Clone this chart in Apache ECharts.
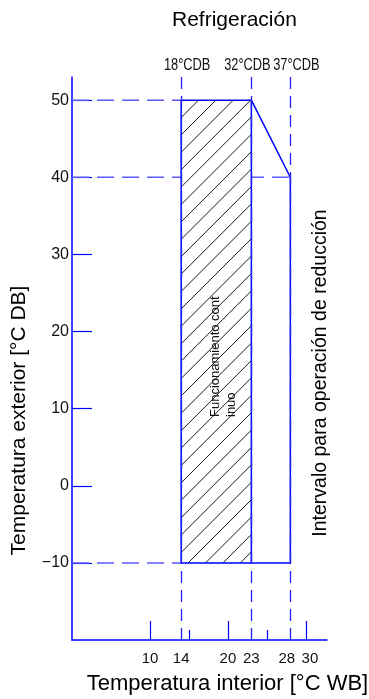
<!DOCTYPE html>
<html>
<head>
<meta charset="utf-8">
<script src="https://cdn.jsdelivr.net/npm/echarts@6/dist/echarts.min.js"></script>
<style>
html,body{margin:0;padding:0;background:#fff;}
#chart{width:369px;height:699px;}
</style>
</head>
<body>
<div id="chart"></div>
<script>
// ---- data ----
const titleText = 'Refrigeración';
const xName = 'Temperatura interior [°C WB]';
const yName = 'Temperatura exterior [°C DB]';
const rightNote = 'Intervalo para operación de reducción';
const areaNote = 'Funcionamiento cont\ninuo';
const xTickLabels = [10, 14, 20, 23, 28, 30];
const xMajorTicks = [10, 20, 30];
const xMinorTicks = [15, 25];
const yTickValues = [-10, 0, 10, 20, 30, 40, 50];
const dbWB = [14, 23, 28];
const dbLabels = ['18°CDB', '32°CDB', '37°CDB'];
const xRange = [0, 32.7];
const yRange = [-20, 53];
// continuous-operation rectangle: [xMin, yMin, xMax, yMax]
const continuousArea = [14, -10, 23, 50];
// operating envelope outline
const envelope = [[14, -10], [14, 50], [23, 50], [28, 40], [28, -10], [14, -10]];
const innerEdge = [[23, 50], [23, -10]];
// horizontal dashed guides: [y, xEnd]
const hGuides = [[50, 14], [40, 28], [-10, 14]];

const BLUE = '#0000ff';
const sans = 'Liberation Sans';
const tickFont = { fontFamily: sans, fontSize: 15, color: '#111' };
const dbLabelShift = [6, -4, 6];

const chart = echarts.init(document.getElementById('chart'));

const series = [];
// vertical dashed guides at the dry-bulb limits
series.push({
  type: 'line', xAxisIndex: 0, yAxisIndex: 0, symbol: 'none', silent: true, data: [], z: 2,
  markLine: {
    silent: true, symbol: 'none', animation: false,
    lineStyle: { color: '#2020ff', width: 1.3, type: [12, 7] },
    label: { show: false },
    data: dbWB.map(function (x) { return { xAxis: x }; })
  }
});
hGuides.forEach(function (g) {
  series.push({
    type: 'line', xAxisIndex: 0, yAxisIndex: 0, symbol: 'none', silent: true,
    data: [[xRange[0], g[0]], [g[1], g[0]]],
    lineStyle: { color: '#5a5aff', width: 1.5, type: [17, 8] }, z: 2
  });
});
series.push({
  type: 'custom', xAxisIndex: 0, yAxisIndex: 0, silent: true, z: 3,
  data: [continuousArea],
  renderItem: function (params, api) {
    const p0 = api.coord([api.value(0), api.value(3)]);
    const p1 = api.coord([api.value(2), api.value(1)]);
    const x0 = p0[0], y0 = p0[1], x1 = p1[0], y1 = p1[1];
    const step = 17.4;
    const sRef = x0 + y1 + 7;
    const sStart = sRef - Math.ceil((sRef - (x0 + y0)) / step) * step;
    const children = [{
      type: 'rect', shape: { x: x0, y: y0, width: x1 - x0, height: y1 - y0 },
      style: { fill: '#fff' }
    }];
    for (let s = sStart; s < x1 + y1; s += step) {
      const xa = Math.max(x0, s - y1), xb = Math.min(x1, s - y0);
      if (xa < xb) {
        children.push({
          type: 'line',
          shape: { x1: xa, y1: s - xa, x2: xb, y2: s - xb },
          style: { stroke: '#1a1a1a', lineWidth: 1 }
        });
      }
    }
    return { type: 'group', children: children };
  }
});
series.push({
  type: 'line', xAxisIndex: 0, yAxisIndex: 0, symbol: 'none', silent: true, z: 4,
  data: envelope, lineStyle: { color: BLUE, width: 1.5 }
});
series.push({
  type: 'line', xAxisIndex: 0, yAxisIndex: 0, symbol: 'none', silent: true, z: 4,
  data: innerEdge, lineStyle: { color: BLUE, width: 1.5 }
});

const option = {
  animation: false,
  backgroundColor: '#fff',
  title: {
    text: titleText, left: 167, top: 5,
    textStyle: { fontFamily: sans, fontSize: 21, fontWeight: 'normal', color: '#000' }
  },
  grid: { left: 72, right: 42, top: 77, bottom: 59, containLabel: false, outerBoundsMode: 'none' },
  xAxis: [{
    type: 'value', min: xRange[0], max: xRange[1], position: 'bottom',
    name: xName, nameLocation: 'middle', nameGap: 33,
    nameTextStyle: { fontFamily: sans, fontSize: 22, color: '#000', padding: [0, 0, 0, 56] },
    axisLine: { show: true, onZero: false, lineStyle: { color: BLUE, width: 1.5 } },
    axisTick: { show: true, inside: true, length: 19, customValues: xMajorTicks, lineStyle: { color: BLUE, width: 1.2 } },
    axisLabel: Object.assign({
      customValues: xTickLabels, margin: 11, hideOverlap: false,
      showMinLabel: true, showMaxLabel: true,
      formatter: function (v) {
        if (v === 28) return '{l|28}';
        if (v === 30) return '{r|30}';
        return String(v);
      },
      rich: {
        l: Object.assign({ padding: [0, 7, 0, 0] }, tickFont),
        r: Object.assign({ padding: [0, 0, 0, 8] }, tickFont)
      }
    }, tickFont),
    splitLine: { show: false }
  }, {
    type: 'value', min: xRange[0], max: xRange[1], position: 'bottom', offset: 0,
    axisLine: { show: false, onZero: false },
    axisTick: { show: true, inside: true, length: 10, customValues: xMinorTicks, lineStyle: { color: BLUE, width: 1.2 } },
    axisLabel: { show: false },
    splitLine: { show: false }
  }],
  yAxis: [{
    type: 'value', min: yRange[0], max: yRange[1],
    name: yName, nameLocation: 'middle', nameGap: 42,
    nameTextStyle: { fontFamily: sans, fontSize: 21, color: '#000', padding: [0, 124, 0, 0] },
    axisLine: { show: true, onZero: false, lineStyle: { color: BLUE, width: 1.5 } },
    axisTick: { show: true, inside: true, length: 20, customValues: yTickValues, lineStyle: { color: BLUE, width: 1.2 } },
    axisLabel: Object.assign({
      customValues: yTickValues, margin: 3, hideOverlap: false,
      formatter: function (v) { return v < 0 ? '\u2212' + Math.abs(v) : String(v); }
    }, tickFont, { fontSize: 16 }),
    splitLine: { show: false }
  }],
  graphic: [{
    id: 'rightNote', type: 'text', x: 321, y: 373, rotation: Math.PI / 2, silent: true,
    style: { text: rightNote, fontFamily: sans, fontSize: 19.5, fill: '#000', align: 'center', verticalAlign: 'middle' }
  }, {
    id: 'areaNote', type: 'text', x: 207, y: 417, rotation: Math.PI / 2, silent: true, z: 10,
    style: { text: areaNote, fontFamily: sans, fontSize: 13, fill: '#111', align: 'left', verticalAlign: 'top', lineHeight: 16 }
  }],
  series: series
};
chart.setOption(option);

// dry-bulb labels above the vertical guides (placed through the axis scale)
const dbGraphics = dbWB.map(function (x, i) {
  const p = chart.convertToPixel({ xAxisIndex: 0, yAxisIndex: 0 }, [x, yRange[1]]);
  return {
    id: 'db' + i, type: 'text', silent: true,
    x: p[0] + dbLabelShift[i], y: p[1] - 11, scaleX: 0.8,
    style: { text: dbLabels[i], fontFamily: sans, fontSize: 16, fill: '#111', align: 'center', verticalAlign: 'middle' }
  };
});
chart.setOption({ graphic: dbGraphics });
</script>
</body>
</html>
